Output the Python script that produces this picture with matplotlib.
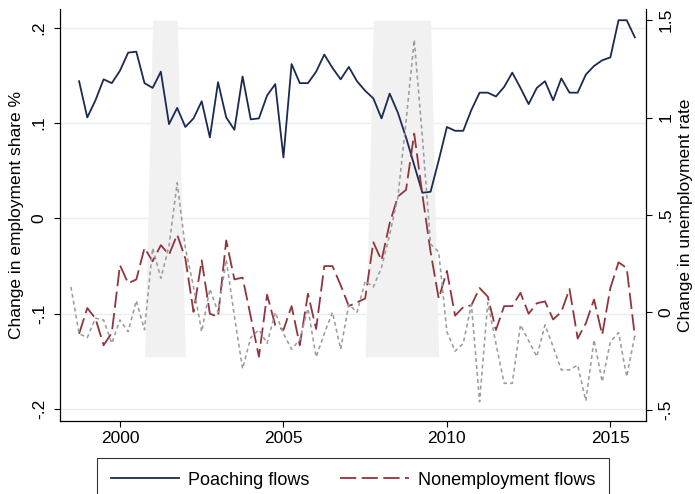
import numpy as np
import matplotlib
matplotlib.use("Agg")
import matplotlib.pyplot as plt

plt.rcParams["font.family"] = ["Liberation Sans", "DejaVu Sans"]
plt.rcParams["font.size"] = 12.5

# quarterly series, 1998q4 - 2015q4
quarters = np.arange(1998.75, 2016.0, 0.25)

poaching = [
    0.144, 0.106, 0.124, 0.146, 0.142, 0.155, 0.174, 0.175,
    0.142, 0.137, 0.154, 0.099, 0.116, 0.096, 0.105, 0.123,
    0.085, 0.143, 0.106, 0.093, 0.149, 0.104, 0.105, 0.129,
    0.141, 0.064, 0.162, 0.142, 0.142, 0.154, 0.172, 0.158,
    0.146, 0.159, 0.144, 0.134, 0.126, 0.105, 0.131, 0.111,
    0.085, 0.056, 0.027, 0.028, 0.061, 0.096, 0.092, 0.092,
    0.114, 0.132, 0.132, 0.128, 0.138, 0.153, 0.137, 0.120,
    0.137, 0.144, 0.124, 0.147, 0.132, 0.132, 0.151, 0.160,
    0.166, 0.169, 0.208, 0.208, 0.190,
]

nonemployment = [
    -0.121, -0.094, -0.105, -0.133, -0.120, -0.049, -0.068, -0.064,
    -0.031, -0.045, -0.028, -0.038, -0.017, -0.042, -0.098, -0.044,
    -0.100, -0.103, -0.023, -0.064, -0.062, -0.103, -0.145, -0.080,
    -0.112, -0.117, -0.092, -0.133, -0.079, -0.116, -0.050, -0.050,
    -0.070, -0.092, -0.088, -0.084, -0.025, -0.044, -0.005, 0.023,
    0.030, 0.089, 0.025, -0.035, -0.084, -0.055, -0.102, -0.093,
    -0.091, -0.073, -0.082, -0.117, -0.092, -0.092, -0.078, -0.100,
    -0.089, -0.087, -0.106, -0.098, -0.074, -0.126, -0.110, -0.085,
    -0.122, -0.073, -0.046, -0.052, -0.124,
]

# change in unemployment rate starts one quarter earlier (1998q3)
unemp_quarters = np.arange(1998.5, 2016.0, 0.25)
unemp_change = [
    0.13, -0.11, -0.13, -0.03, -0.04, -0.16, -0.04, -0.10,
    0.06, -0.09, 0.33, 0.175, 0.34, 0.665, 0.33, 0.13,
    -0.10, 0.12, 0.00, 0.27, -0.02, -0.29, -0.13, -0.09,
    -0.16, 0.00, -0.11, -0.19, -0.14, 0.02, -0.23, -0.11,
    0.00, -0.19, 0.04, 0.00, 0.16, 0.13, 0.23, 0.40,
    0.59, 0.98, 1.40, 0.90, 0.35, 0.31, -0.10, -0.20,
    -0.16, 0.04, -0.46, 0.05, -0.16, -0.365, -0.365, -0.065,
    -0.146, -0.228, -0.065, -0.177, -0.296, -0.296, -0.271, -0.455,
    -0.142, -0.357, -0.151, -0.105, -0.331, -0.117,
]

# NBER recessions (first and last quarter)
recessions = [(2001.0, 2001.75), (2007.75, 2009.5)]

left_ticks = [-0.2, -0.1, 0, 0.1, 0.2]
left_labels = ["-.2", "-.1", "0", ".1", ".2"]
right_ticks = [-0.5, 0, 0.5, 1, 1.5]
right_labels = ["-.5", "0", ".5", "1", "1.5"]
year_ticks = [2000, 2005, 2010, 2015]

navy = "#1b2a52"
cranberry = "#90353b"
grey = "#9c9c9c"

fig = plt.figure(figsize=(6.95, 4.94), dpi=100)
ax = fig.add_axes([0.0863, 0.1484, 0.8432, 0.8334])

# recession bands run from the lowest to the highest plotted value
lo = min(nonemployment)
hi = max(poaching)
in_rec = np.zeros(len(quarters), dtype=bool)
for start, end in recessions:
    in_rec |= (quarters >= start - 1e-9) & (quarters <= end + 1e-9)
ax.fill_between(quarters, lo, np.where(in_rec, hi, lo),
                color="#f1f1f1", linewidth=0, zorder=1)

l1, = ax.plot(quarters, poaching, color=navy, lw=1.3, zorder=3,
              label="Poaching flows")
l2, = ax.plot(quarters, nonemployment, color=cranberry, lw=1.3, zorder=3,
              dashes=(9, 3), label="Nonemployment flows")

ax.set_xlim(1998.165, 2016.09)
ax.set_ylim(-0.2122, 0.2198)
ax.set_xticks(year_ticks)
ax.set_yticks(left_ticks)
ax.set_yticklabels(left_labels, rotation=90, va="center")
ax.yaxis.grid(True, color="#e8eef0", lw=1.0, zorder=0)
ax.set_axisbelow(True)

ax2 = ax.twinx()
ax2.plot(unemp_quarters, unemp_change, color=grey, lw=1.15, dashes=(2.4, 2.0))
ax2.set_ylim(-0.557, 1.558)
ax2.set_yticks(right_ticks)
ax2.set_yticklabels(right_labels, rotation=90, va="center")

for a in (ax, ax2):
    a.spines["top"].set_visible(False)
    for s in a.spines.values():
        s.set_linewidth(0.9)
        s.set_color("black")
    a.tick_params(direction="out", length=4.5, width=0.8, colors="black")
ax2.spines["left"].set_visible(False)
ax2.spines["bottom"].set_visible(False)
ax.spines["right"].set_visible(False)
ax.tick_params(axis="y", pad=5)
ax.tick_params(axis="x", pad=3)
ax2.tick_params(axis="y", pad=4.5)

ax.set_ylabel("Change in employment share %", va="center")
ax.yaxis.set_label_coords((17 - 60) / 586, 0.5)
ax2.set_ylabel("Change in unemployment rate", rotation=90, va="center")
ax2.yaxis.set_label_coords((685 - 60) / 586, 0.5)

leg = fig.legend(handles=[l1, l2], loc="center",
                 bbox_to_anchor=(353 / 695, 1 - 480 / 494), ncol=2,
                 fontsize=13, frameon=True, fancybox=False, edgecolor="black",
                 handlelength=3.8, handletextpad=0.5, columnspacing=1.7,
                 borderpad=0.75)
leg.get_frame().set_linewidth(0.8)

fig.savefig("out.png", dpi=100)
